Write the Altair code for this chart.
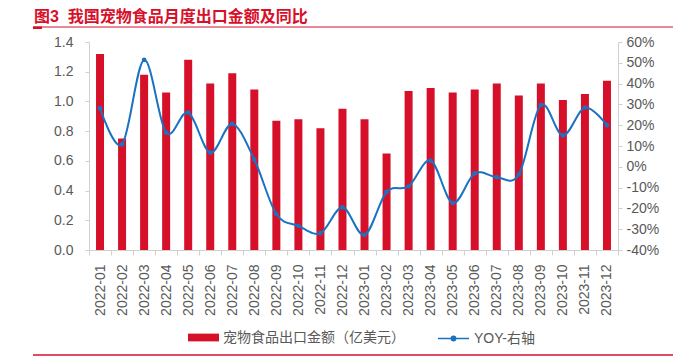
import altair as alt
import pandas as pd

months = ["2022-01", "2022-02", "2022-03", "2022-04", "2022-05", "2022-06",
          "2022-07", "2022-08", "2022-09", "2022-10", "2022-11", "2022-12",
          "2023-01", "2023-02", "2023-03", "2023-04", "2023-05", "2023-06",
          "2023-07", "2023-08", "2023-09", "2023-10", "2023-11", "2023-12"]
export_value = [1.32, 0.75, 1.18, 1.06, 1.28, 1.12, 1.19, 1.08, 0.87, 0.88, 0.82, 0.95,
                0.88, 0.65, 1.07, 1.09, 1.06, 1.08, 1.12, 1.04, 1.12, 1.01, 1.05, 1.14]
yoy_pct = [28.2, 10.8, 51.4, 16.4, 26.1, 6.8, 20.6, 3.5, -22.7, -28.4, -31.9, -19.5,
           -32.8, -12.1, -9.4, 3.0, -17.4, -3.2, -5.0, -3.7, 29.7, 15.1, 28.5, 20.0]
left_ticks = [0.0, 0.2, 0.4, 0.6, 0.8, 1.0, 1.2, 1.4]
right_ticks = [-40, -30, -20, -10, 0, 10, 20, 30, 40, 50, 60]

TITLE = "图3\u00a0\u00a0我国宠物食品月度出口金额及同比"
BAR_LABEL = "宠物食品出口金额（亿美元）"
LINE_LABEL = "YOY-右轴"

RED = "#d7102a"
BLUE = "#1a72c2"
GREY = "#595959"
AXIS = "#d0d0d0"
FONT = "Liberation Sans, Noto Sans CJK SC"

df = pd.DataFrame({"month": months, "value": export_value, "yoy": yoy_pct,
                   "bar_series": [BAR_LABEL] * len(months),
                   "line_series": [LINE_LABEL] * len(months)})

x_enc = alt.X(
    "month:N", sort=months,
    scale=alt.Scale(paddingInner=0, paddingOuter=0),
    axis=alt.Axis(title=None, labelAngle=270, labelFontSize=14, labelColor=GREY,
                  labelFont=FONT, labelPadding=9, tickBand="extent", tickSize=5,
                  tickColor=AXIS, domainColor=AXIS, grid=False),
)

bars = alt.Chart(df).mark_bar(size=8).encode(
    x=x_enc,
    y=alt.Y("value:Q", scale=alt.Scale(domain=[0, 1.4], nice=False),
            axis=alt.Axis(title=None, values=left_ticks, format=".1f", labelFontSize=14,
                          labelColor=GREY, labelFont=FONT, tickSize=4, labelPadding=12,
                          tickColor=AXIS, domainColor=AXIS, grid=False)),
    color=alt.Color("bar_series:N", scale=alt.Scale(domain=[BAR_LABEL], range=[RED]),
                    legend=alt.Legend(orient="none", legendX=99, legendY=280, title=None,
                                      symbolType="M-1,-0.25H1V0.25H-1Z", symbolSize=961,
                                      symbolStrokeWidth=0, labelLimit=400,
                                      labelFontSize=14, labelFont=FONT, labelColor=GREY)),
)

line = alt.Chart(df).mark_line(
    interpolate="cardinal", strokeWidth=2,
    point=alt.OverlayMarkDef(filled=True, size=22),
).encode(
    x=x_enc,
    y=alt.Y("yoy:Q", scale=alt.Scale(domain=[-40, 60], nice=False),
            axis=alt.Axis(title=None, orient="right", values=right_ticks,
                          labelExpr="datum.value + '%'", labelFontSize=14,
                          labelColor=GREY, labelFont=FONT, tickSize=4, labelPadding=4,
                          tickColor=AXIS, domainColor=AXIS, grid=False)),
    color=alt.Color("line_series:N", scale=alt.Scale(domain=[LINE_LABEL], range=[BLUE]),
                    legend=alt.Legend(orient="none", legendX=348, legendY=280, title=None,
                                      symbolType="M-1,0H1M-0.14,0A0.14,0.14,0,1,1,0.14,0A0.14,0.14,0,1,1,-0.14,0",
                                      symbolSize=961, symbolStrokeWidth=1.5,
                                      symbolFillColor=BLUE, labelLimit=400,
                                      labelFontSize=14, labelFont=FONT, labelColor=GREY)),
)

title = alt.Chart(pd.DataFrame({"t": [TITLE]})).mark_text(
    align="left", baseline="alphabetic", font=FONT, fontSize=16, fontWeight="bold", color=RED
).encode(x=alt.value(-55), y=alt.value(-20), text="t:N")

one = pd.DataFrame({"a": [0]})
top_rule = alt.Chart(one).mark_rule(color=RED, strokeWidth=1).encode(
    x=alt.value(-56), x2=alt.value(584), y=alt.value(-15))
top_block = alt.Chart(one).mark_rect(color=RED).encode(
    x=alt.value(-56), x2=alt.value(-47), y=alt.value(-15.5), y2=alt.value(-13))
bottom_rule = alt.Chart(one).mark_rule(color=RED, strokeWidth=1.5).encode(
    x=alt.value(-56), x2=alt.value(584), y=alt.value(313))

chart = alt.layer(bars, line, title, top_rule, top_block, bottom_rule).resolve_scale(
    y="independent", color="independent"
).properties(
    width=529, height=208,
    autosize=alt.AutoSizeParams(type="none"),
    padding={"left": 81, "top": 34, "right": 60, "bottom": 106},
).configure_view(stroke=None)

chart.save("out.html", embed_options={"renderer": "svg", "actions": False})
